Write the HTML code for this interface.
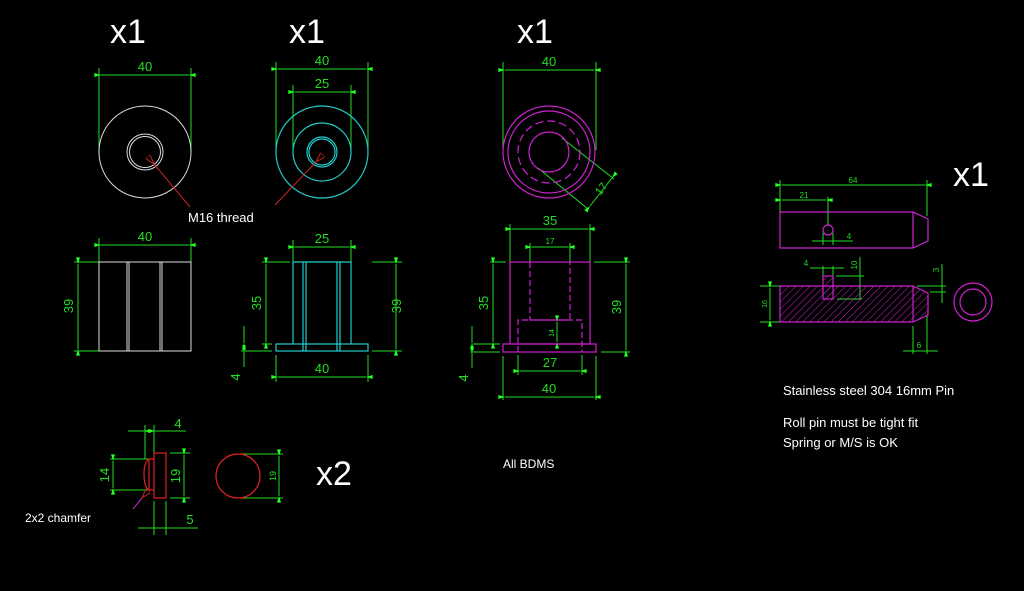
<!DOCTYPE html>
<html><head><style>
html,body{margin:0;padding:0;background:#000;width:1024px;height:591px;overflow:hidden}
svg{display:block}
text{font-family:"Liberation Sans",sans-serif}
</style></head><body>
<svg width="1024" height="591" viewBox="0 0 1024 591" xmlns="http://www.w3.org/2000/svg">
<defs>
<marker id="a" viewBox="0 0 10 6" refX="0" refY="3" markerWidth="8" markerHeight="4" orient="auto-start-reverse" markerUnits="userSpaceOnUse"><path d="M0,3 L10,0 L10,6Z" fill="#2f2"/></marker>
<marker id="r" viewBox="0 0 10 6" refX="0" refY="3" markerWidth="10" markerHeight="6" orient="auto-start-reverse" markerUnits="userSpaceOnUse"><path d="M0,3 L10,0 L10,6Z" fill="none" stroke="#c22"/></marker>
<pattern id="h" width="5" height="5" patternUnits="userSpaceOnUse" patternTransform="rotate(45)"><line x1="0" y1="0" x2="0" y2="5" stroke="#c2c" stroke-width="1"/></pattern>
</defs>
<g fill="#fff" font-size="34">
<text x="110" y="43">x1</text><text x="289" y="43">x1</text><text x="517" y="43">x1</text><text x="953" y="186">x1</text><text x="316" y="485">x2</text>
</g>
<g fill="#fff" font-size="13">
<text x="188" y="222">M16 thread</text>
<text x="503" y="468" font-size="12">All BDMS</text>
<text x="25" y="522" font-size="12">2x2 chamfer</text>
<text x="783" y="395">Stainless steel 304 16mm Pin</text>
<text x="783" y="427">Roll pin must be tight fit</text>
<text x="783" y="447">Spring or M/S is OK</text>
</g>
<!-- green dims -->
<g stroke="#2d2" stroke-width="1" fill="none">
<!-- part1 -->
<path d="M99,68V152M191,68V152"/><path d="M101,75H189" marker-start="url(#a)" marker-end="url(#a)"/>
<path d="M99,238V262M191,238V262"/><path d="M101,245H189" marker-start="url(#a)" marker-end="url(#a)"/>
<path d="M74,262H99M74,351H99"/><path d="M78,264V349" marker-start="url(#a)" marker-end="url(#a)"/>
<!-- part2 -->
<path d="M276,62V152M368,62V152"/><path d="M278,69H366" marker-start="url(#a)" marker-end="url(#a)"/>
<path d="M293,85V152M351,85V152"/><path d="M295,92H349" marker-start="url(#a)" marker-end="url(#a)"/>
<path d="M293,240V262M351,240V262"/><path d="M295,247H349" marker-start="url(#a)" marker-end="url(#a)"/>
<path d="M262,262H290M262,344H272M241,351H272"/><path d="M266,264V342" marker-start="url(#a)" marker-end="url(#a)"/>
<path d="M372,262H402M372,351H402"/><path d="M396,264V349" marker-start="url(#a)" marker-end="url(#a)"/>
<path d="M244,326V342M244,353V367"/><path d="M244,336V343" marker-end="url(#a)"/><path d="M244,358V352" marker-end="url(#a)"/>
<path d="M276,355V382M368,355V382"/><path d="M278,377H366" marker-start="url(#a)" marker-end="url(#a)"/>
<!-- part3 -->
<path d="M503,62V150M596,62V150"/><path d="M505,70H594" marker-start="url(#a)" marker-end="url(#a)"/>
<path d="M562,138L614,179M538,168L588,209"/><path d="M612,178L590,206" marker-start="url(#a)" marker-end="url(#a)"/>
<path d="M510,224V262M590,224V262"/><path d="M512,229H588" marker-start="url(#a)" marker-end="url(#a)"/>
<path d="M530,243V262M570,243V262"/><path d="M532,247H568" marker-start="url(#a)" marker-end="url(#a)"/>
<path d="M490,262H506M473,344H500M470,352H500"/><path d="M493,264V342" marker-start="url(#a)" marker-end="url(#a)"/>
<path d="M594,262H630M601,352H630"/><path d="M626,264V350" marker-start="url(#a)" marker-end="url(#a)"/>
<path d="M472,326V342M472,354V368"/><path d="M472,336V343" marker-end="url(#a)"/><path d="M472,360V353" marker-end="url(#a)"/>
<path d="M557,322V342" marker-start="url(#a)" marker-end="url(#a)"/>
<path d="M518,355V375M582,355V375"/><path d="M520,371H580" marker-start="url(#a)" marker-end="url(#a)"/>
<path d="M503,356V400M596,356V400"/><path d="M505,397H594" marker-start="url(#a)" marker-end="url(#a)"/>
<!-- pin -->
<path d="M780,180V212M927,180V216"/><path d="M782,185H925" marker-start="url(#a)" marker-end="url(#a)"/>
<path d="M828,197V225"/><path d="M782,200H826" marker-start="url(#a)" marker-end="url(#a)"/>
<path d="M823,233V245M833,233V245M812,241H853"/>
<path d="M810,268H844M823,266V276M833,266V276M836,276H864M837,299H862M860,257V299"/>
<path d="M760,286H780M760,322H780"/><path d="M770,288V320" marker-start="url(#a)" marker-end="url(#a)"/>
<path d="M917,286H946M930,292H946M942,264V303"/>
<path d="M913,326V354M927,316V354M903,351H938"/>
<!-- x2 part -->
<path d="M128,431H186M145,425V459M154,425V453"/><path d="M131,431H144" marker-end="url(#a)"/><path d="M168,431H155" marker-end="url(#a)"/>
<path d="M110,459H148M110,490H148"/><path d="M113,461V488" marker-start="url(#a)" marker-end="url(#a)"/>
<path d="M170,453H190M170,498H190"/><path d="M184,455V496" marker-start="url(#a)" marker-end="url(#a)"/>
<path d="M154,501V535M166,501V535M138,528H198"/>
<path d="M238,454H283M238,498H283"/><path d="M279,456V496" marker-start="url(#a)" marker-end="url(#a)"/>
</g>
<g fill="#2d2" font-size="13" text-anchor="middle">
<text x="145" y="71">40</text><text x="145" y="241">40</text>
<text transform="translate(73,306) rotate(-90)">39</text>
<text x="322" y="65">40</text><text x="322" y="88">25</text><text x="322" y="243">25</text>
<text transform="translate(261,303) rotate(-90)">35</text>
<text transform="translate(401,306) rotate(-90)">39</text>
<text transform="translate(240,377) rotate(-90)">4</text>
<text x="322" y="373">40</text>
<text x="549" y="66">40</text>
<text transform="translate(604,191) rotate(-52)" font-size="11">17</text>
<text x="550" y="225">35</text><text x="550" y="244" font-size="8">17</text>
<text transform="translate(488,303) rotate(-90)">35</text>
<text transform="translate(621,307) rotate(-90)">39</text>
<text transform="translate(468,378) rotate(-90)">4</text>
<text transform="translate(554,333) rotate(-90)" font-size="7">14</text>
<text x="550" y="367">27</text><text x="549" y="393">40</text>
<text x="853" y="183" font-size="8">64</text><text x="804" y="198" font-size="8">21</text>
<text x="849" y="239" font-size="8">4</text><text x="806" y="266" font-size="8">4</text>
<text transform="translate(857,265) rotate(-90)" font-size="8">10</text>
<text transform="translate(767,304) rotate(-90)" font-size="7">16</text>
<text transform="translate(939,270) rotate(-90)" font-size="8">3</text>
<text x="919" y="348" font-size="8">6</text>
<text x="178" y="428">4</text>
<text transform="translate(109,475) rotate(-90)">14</text>
<text transform="translate(180,476) rotate(-90)">19</text>
<text x="190" y="524">5</text>
<text transform="translate(276,476) rotate(-90)" font-size="9">19</text>
</g>
<!-- part1 white -->
<g stroke="#ddd" fill="none" stroke-width="1">
<circle cx="145" cy="152" r="46"/><circle cx="145" cy="152" r="18"/><circle cx="145" cy="152" r="15.5"/>
<rect x="99" y="262" width="92" height="89"/>
<path d="M127,262V351M129,262V351M160,262V351M162,262V351"/>
</g>
<!-- part2 cyan -->
<g stroke="#2cc" fill="none" stroke-width="1.2">
<circle cx="322" cy="152" r="46"/><circle cx="322" cy="152" r="29"/><circle cx="322" cy="152" r="15"/><circle cx="322" cy="152" r="13"/>
<rect x="276" y="344" width="92" height="7"/>
<path d="M293,262H351V344M293,262V344M303,262V351M306,262V351M337,262V351M340,262V351"/>
</g>
<!-- red leaders -->
<g stroke="#c22" fill="none">
<path d="M190,207L154,164" marker-end="url(#r)"/>
<path d="M275,205L316,162" marker-end="url(#r)"/>
</g>
<!-- part3 magenta -->
<g stroke="#c2c" fill="none" stroke-width="1.2">
<circle cx="549" cy="152" r="46"/><circle cx="549" cy="152" r="41"/>
<circle cx="549" cy="152" r="31" stroke-dasharray="8,4"/><circle cx="549" cy="152" r="20"/>
<rect x="503" y="344" width="93" height="8"/>
<rect x="510" y="262" width="80" height="82"/>
<path d="M530,262V320H570V262" stroke-dasharray="6,3"/>
<path d="M518,352V320H582V352" stroke-dasharray="6,3"/>
<!-- pin -->
<path d="M780,212H913L928,219V241L913,248H780Z M913,212V248"/>
<circle cx="828" cy="230" r="5"/>
<path d="M780,286H913L928,293V315L913,322H780Z" fill="url(#h)"/>
<path d="M913,286V322"/>
<rect x="823" y="276" width="10" height="23" fill="url(#h)"/>
<circle cx="973" cy="302" r="19"/><circle cx="973" cy="302" r="13"/>
</g>
<!-- x2 part red -->
<g stroke="#d22" fill="none" stroke-width="1.2">
<rect x="154" y="453" width="12" height="45"/>
<path d="M154,459H149Q144,462 144,474Q144,487 149,490H154M149,459V490"/>
<circle cx="238" cy="476" r="22"/>
</g>
<path d="M133,509L142,498" stroke="#c2c" marker-end="url(#r)" fill="none"/>
</svg>
</body></html>
